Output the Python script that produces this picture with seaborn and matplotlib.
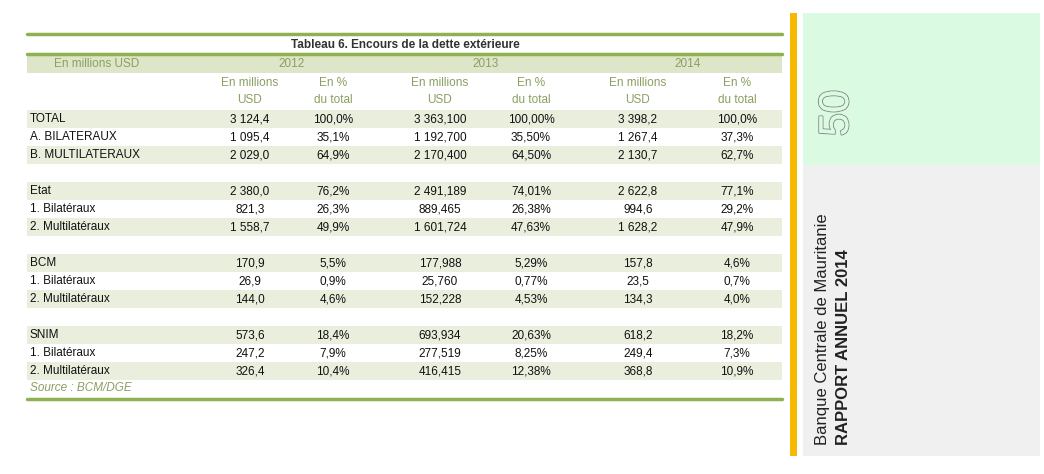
import matplotlib.pyplot as plt
import seaborn as sns
import matplotlib.patheffects as pe

# data of the table
labels = ["TOTAL", "A. BILATERAUX", "B. MULTILATERAUX", "",
          "Etat", "1. Bilatéraux", "2. Multilatéraux", "",
          "BCM", "1. Bilatéraux", "2. Multilatéraux", "",
          "SNIM", "1. Bilatéraux", "2. Multilatéraux"]
usd_2012 = ["3 124,4", "1 095,4", "2 029,0", "", "2 380,0", "821,3", "1 558,7", "",
            "170,9", "26,9", "144,0", "", "573,6", "247,2", "326,4"]
pct_2012 = ["100,0%", "35,1%", "64,9%", "", "76,2%", "26,3%", "49,9%", "",
            "5,5%", "0,9%", "4,6%", "", "18,4%", "7,9%", "10,4%"]
usd_2013 = ["3 363,100", "1 192,700", "2 170,400", "", "2 491,189", "889,465", "1 601,724", "",
            "177,988", "25,760", "152,228", "", "693,934", "277,519", "416,415"]
pct_2013 = ["100,00%", "35,50%", "64,50%", "", "74,01%", "26,38%", "47,63%", "",
            "5,29%", "0,77%", "4,53%", "", "20,63%", "8,25%", "12,38%"]
usd_2014 = ["3 398,2", "1 267,4", "2 130,7", "", "2 622,8", "994,6", "1 628,2", "",
            "157,8", "23,5", "134,3", "", "618,2", "249,4", "368,8"]
pct_2014 = ["100,0%", "37,3%", "62,7%", "", "77,1%", "29,2%", "47,9%", "",
            "4,6%", "0,7%", "4,0%", "", "18,2%", "7,3%", "10,9%"]
years = ["2012", "2013", "2014"]
shaded = [0, 2, 4, 6, 8, 10, 12, 14]

sns.set_theme(style="white")
plt.rcParams['font.family'] = ['Liberation Sans', 'DejaVu Sans']

fig = plt.figure(figsize=(10.44, 4.74), dpi=100)
ax = fig.add_axes([0, 0, 1, 1])
ax.set_xlim(0, 1044)
ax.set_ylim(474, 0)
ax.axis("off")

green = "#8fb150"
hdr_txt = "#8a9f62"
fs = 8.5

# top lines and title
ax.plot([27, 782], [34, 34], color=green, lw=2.5)
ax.text(405, 45, "Tableau 6. Encours de la dette extérieure", ha="center", va="center",
        fontsize=fs, fontweight="bold", color="#333333")
ax.plot([27, 782], [54, 54], color=green, lw=2.5)
ax.add_patch(plt.Rectangle((27, 55), 755, 18, color="#dde6c8", lw=0))
ax.text(97, 64, "En millions USD", ha="center", va="center", fontsize=fs, color=hdr_txt)

usd_x = [250, 440, 638]
pct_x = [333, 531, 737]
for y, ux, px in zip(years, usd_x, pct_x):
    ax.text((ux + px) / 2, 64, y, ha="center", va="center", fontsize=fs, color=hdr_txt)
    ax.text(ux, 83, "En millions", ha="center", va="center", fontsize=fs, color=hdr_txt)
    ax.text(ux, 100, "USD", ha="center", va="center", fontsize=fs, color=hdr_txt)
    ax.text(px, 83, "En %", ha="center", va="center", fontsize=fs, color=hdr_txt)
    ax.text(px, 100, "du total", ha="center", va="center", fontsize=fs, color=hdr_txt)

row_y0 = 119
row_h = 18
cols = [usd_2012, pct_2012, usd_2013, pct_2013, usd_2014, pct_2014]
col_x = [usd_x[0], pct_x[0], usd_x[1], pct_x[1], usd_x[2], pct_x[2]]
for i, lab in enumerate(labels):
    y = row_y0 + i * row_h
    if i in shaded:
        ax.add_patch(plt.Rectangle((27, y - 9), 755, 18, color="#e9eedd", lw=0))
    ax.text(30, y, lab, ha="left", va="center", fontsize=fs, color="#111111")
    for c, x in zip(cols, col_x):
        ax.text(x, y, c[i], ha="center", va="center", fontsize=fs, color="#111111")

ax.text(30, 388, "Source : BCM/DGE", ha="left", va="center",
        fontsize=fs, style="italic", color=hdr_txt)
ax.plot([27, 782], [399, 399], color=green, lw=2.5)

# side panel
ax.add_patch(plt.Rectangle((790, 13), 7, 443, color="#f6b800", lw=0))
ax.add_patch(plt.Rectangle((803, 13), 237, 152, color="#dafbe2", lw=0))
ax.add_patch(plt.Rectangle((803, 165), 237, 291, color="#f0f0f0", lw=0))
t = ax.text(837, 113, "50", rotation=90, ha="center", va="center", fontsize=30,
            color="#dafbe2")
t.set_path_effects([pe.withStroke(linewidth=1.5, foreground="#8a8a8a"), pe.Normal()])
ax.text(822, 445, "Banque Centrale de Mauritanie", rotation=90, ha="left", va="center",
        fontsize=12, color="#222222", rotation_mode="anchor")
ax.text(843, 445, "RAPPORT ANNUEL 2014", rotation=90, ha="left", va="center",
        fontsize=12, fontweight="bold", color="#222222", rotation_mode="anchor")

fig.savefig("out.png", dpi=100)
